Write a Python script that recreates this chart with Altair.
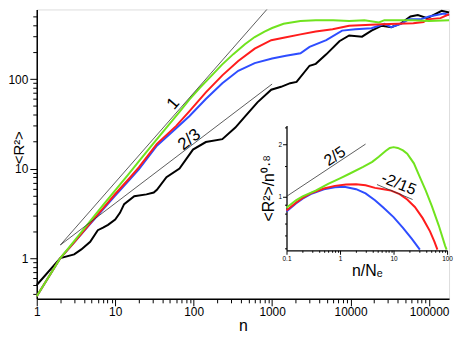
import altair as alt
import pandas as pd

FONT = "Liberation Sans"

# ---------------- main panel data ----------------
n_black = [1, 2, 3, 3.7, 4.8, 6, 7, 8.1, 10, 11.5, 13, 17.5, 25, 31, 34, 45, 66, 98, 143, 232,
           340, 450, 650, 975, 1300, 1700, 2050, 3000, 3600, 4900, 7200, 9600, 14000, 18500,
           25000, 33000, 44000, 58000, 72000, 95000, 145000, 180000]
r2_black = [0.5, 1.0, 1.1, 1.25, 1.52, 2.05, 2.19, 2.35, 2.7, 3.2, 4.0, 4.9, 5.15, 5.4, 5.8, 8.0, 10, 16.3, 19.8, 21.3,
            28.7, 38, 55, 76, 82, 90, 93, 141, 148, 189, 265, 307, 298, 348,
            395, 380, 420, 500, 520, 480, 580, 555]

n_blue = [1, 2, 3, 5, 7, 10, 15, 20, 34, 66, 88, 143, 232, 370, 600, 1000, 1500, 2300, 3000, 4900,
          7800, 11500, 18500, 27000, 33000, 44000, 55000, 78000, 100000, 155000, 180000]
r2_blue = [0.375, 1.0, 1.5, 2.5, 3.5, 5.0, 7.4, 9.8, 18.0, 30.5, 38.5, 60, 90, 124, 151, 170, 182, 194, 229, 272,
           348, 360, 370, 415, 380, 415, 465, 465, 500, 540, 520]

n_red = [1, 2, 3, 5, 7, 10, 15, 20, 34, 60, 88, 143, 232, 370, 600, 975, 1400, 2300, 3600, 5900,
         9600, 25000, 63000, 85000, 95000, 140000, 180000]
r2_red = [0.375, 1.0, 1.5, 2.55, 3.6, 5.2, 7.7, 10.3, 18.9, 30, 43.5, 71, 110, 159, 219, 272, 290, 316, 340, 360,
          395, 410, 420, 435, 465, 480, 530]

n_green = [1, 2, 3, 5, 7, 10, 15, 20, 30, 45, 66, 88, 120, 160, 230, 320, 450, 600, 800, 1000, 1400,
           2300, 3600, 6000, 9600, 15000, 23000, 27000, 63000, 100000, 180000]
r2_green = [0.375, 1.0, 1.55, 2.7, 3.9, 5.7, 8.8, 12, 18.6, 28.7, 43, 59, 80, 104, 145, 190, 245, 295, 340, 372, 415,
            445, 455, 455, 445, 455, 430, 455, 455, 445, 455]

# reference power laws (main panel)
ref_n = [2, 1000, 2, 1000]
ref_r2 = [1.4, 700, 1.4, 88]
ref_id = ["one", "one", "twothirds", "twothirds"]

main_x_ticks = [m * 10 ** d for d in range(0, 6) for m in range(1, 10) if m * 10 ** d <= 180000]
main_y_ticks = [0.4, 0.5, 0.6, 0.7, 0.8, 0.9] + [m * 10 ** d for d in range(0, 3) for m in range(1, 10) if m * 10 ** d <= 500]
main_x_major = [1, 10, 100, 1000, 10000, 100000]
main_y_major = [1, 10, 100]

# ---------------- inset data ----------------
x_in_green = [0.1, 0.15, 0.2, 0.35, 0.6, 1.0, 1.5, 2.7, 4, 5.3, 7, 8.5, 10, 12, 15, 18, 24, 30, 40, 52, 70, 92, 98]
y_in_green = [0.86, 0.95, 1.0, 1.08, 1.18, 1.27, 1.35, 1.48, 1.58, 1.69, 1.82, 1.90, 1.92, 1.90, 1.84, 1.76, 1.55,
              1.32, 1.08, 0.88, 0.68, 0.52, 0.495]
x_in_red = [0.1, 0.15, 0.2, 0.3, 0.5, 0.8, 1.3, 2.0, 3.0, 4.5, 6.5, 9, 13, 18, 25, 35, 48, 58, 66]
y_in_red = [0.83, 0.92, 0.98, 1.05, 1.11, 1.15, 1.17, 1.175, 1.16, 1.12, 1.10, 1.08, 1.03, 0.96, 0.87, 0.75, 0.63,
            0.55, 0.495]
x_in_blue = [0.1, 0.15, 0.2, 0.3, 0.5, 0.8, 1.2, 2.0, 3.0, 4.5, 6.5, 10, 15, 22, 31]
y_in_blue = [0.82, 0.91, 0.97, 1.04, 1.10, 1.13, 1.135, 1.10, 1.04, 0.95, 0.86, 0.76, 0.66, 0.57, 0.495]

in_ref_x = [0.1, 3.0, 4.9, 22.7]
in_ref_y = [1.0, 2.0, 1.17, 0.96]
in_ref_id = ["twofifths", "twofifths", "m2_15", "m2_15"]

in_x_ticks = [round(m * 10 ** d, 3) for d in range(-1, 2) for m in range(1, 10)] + [100]
in_y_ticks = [0.5, 0.6, 0.7, 0.8, 0.9, 1, 1.5, 2, 2.5]
in_x_major = [0.1, 1, 10, 100]
in_y_major = [1, 2]

series_names = ["black", "blue", "red", "green"]
series_colors = ["#000000", "#2e4dff", "#ff1c1c", "#70e31e"]

# ---------------- tables ----------------
def table(xs, ys, name, xk, yk):
    return pd.DataFrame({xk: xs, yk: ys, "series": name})

main_df = pd.concat([
    table(n_black, r2_black, "black", "n", "r2"),
    table(n_blue, r2_blue, "blue", "n", "r2"),
    table(n_red, r2_red, "red", "n", "r2"),
    table(n_green, r2_green, "green", "n", "r2"),
], ignore_index=True)

inset_df = pd.concat([
    table(x_in_blue, y_in_blue, "blue", "x", "y"),
    table(x_in_red, y_in_red, "red", "x", "y"),
    table(x_in_green, y_in_green, "green", "x", "y"),
], ignore_index=True)

ref_df = pd.DataFrame({"n": ref_n, "r2": ref_r2, "id": ref_id})
in_ref_df = pd.DataFrame({"x": in_ref_x, "y": in_ref_y, "id": in_ref_id})

color = alt.Color("series:N", scale=alt.Scale(domain=series_names, range=series_colors), legend=None)


def major_test(vals):
    return "indexof([" + ",".join(str(v) for v in vals) + "], datum.value) >= 0"


def log_axis(ticks, major, orient, title, big, small, label_size, title_size, **kw):
    test = major_test(major)
    return alt.Axis(
        values=ticks, orient=orient, title=title, grid=False,
        labelExpr=test + " ? format(datum.value, '') : ''",
        labelOverlap=False, labelFlush=False, labelBound=False,
        tickSize={"condition": {"test": test, "value": big}, "value": small},
        tickColor="black", tickWidth=1, domainColor="black",
        labelFont=FONT, labelFontSize=label_size, labelColor="black",
        titleFont=FONT, titleFontSize=title_size, titleFontWeight="normal", titleColor="black",
        **kw,
    )

# ---------------- layout ----------------
PLOT_W, PLOT_H = 416, 292
IN_X0, IN_X1 = 252, 414
IN_Y0, IN_Y1 = 243, 117

# ---------------- main panel ----------------
x_main = alt.X("n:Q", scale=alt.Scale(type="log", domain=[1, 180000], nice=False),
               axis=log_axis(main_x_ticks, main_x_major, "bottom", "n", 7, 4, 12, 16,
                             domainWidth=1.5, labelPadding=1, titlePadding=0))
y_main = alt.Y("r2:Q", scale=alt.Scale(type="log", domain=[0.35, 600], nice=False),
               axis=log_axis(main_y_ticks, main_y_major, "left", "<R²>", 7, 4, 12, 15,
                             domainWidth=1.5, labelPadding=2, titleX=-18, titleY=139,
                             titleAlign="center", titleBaseline="middle", titleAngle=270))

main_lines = alt.Chart(main_df).mark_line(strokeWidth=2).encode(x=x_main, y=y_main, color=color)
main_refs = alt.Chart(ref_df).mark_line(strokeWidth=0.8, color="#333333", clip=True).encode(
    x=x_main, y=y_main, detail="id:N")

ann_text = ["1", "2/3"]
ann_n = [55, 88]
ann_r2 = [53, 21]
ann_angle = [311, 322]
main_texts = [
    alt.Chart(pd.DataFrame({"n": [ann_n[i]], "r2": [ann_r2[i]]})).mark_text(
        text=ann_text[i], angle=ann_angle[i], font=FONT, fontSize=17, color="black").encode(x=x_main, y=y_main)
    for i in range(len(ann_text))
]
main = alt.layer(main_lines, main_refs, *main_texts)

# ---------------- inset panel ----------------
x_in = alt.X("x:Q", scale=alt.Scale(type="log", domain=[0.1, 100], nice=False, range=[IN_X0, IN_X1]),
             axis=log_axis(in_x_ticks, in_x_major, "bottom", "n/Nₑ", 4, 2, 6.5, 16,
                           offset=IN_Y0 - PLOT_H, domainWidth=1.3, labelPadding=1, titlePadding=1))
y_in = alt.Y("y:Q", scale=alt.Scale(type="log", domain=[0.49, 2.56], nice=False, range=[IN_Y0, IN_Y1]),
             axis=log_axis(in_y_ticks, in_y_major, "left", "<R²>/n⁰·⁸", 4, 2, 6.5, 16,
                           offset=-IN_X0, domainWidth=1.3, labelPadding=1, titlePadding=2))

inset_lines = alt.Chart(inset_df).mark_line(strokeWidth=2).encode(x=x_in, y=y_in, color=color)
inset_refs = alt.Chart(in_ref_df).mark_line(strokeWidth=0.8, color="#333333").encode(
    x=x_in, y=y_in, detail="id:N")

in_ann_text = ["2/5", "-2/15"]
in_ann_x = [0.8, 12.5]
in_ann_y = [1.7, 1.18]
in_ann_angle = [326, 22]
inset_texts = [
    alt.Chart(pd.DataFrame({"x": [in_ann_x[i]], "y": [in_ann_y[i]]})).mark_text(
        text=in_ann_text[i], angle=in_ann_angle[i], font=FONT, fontSize=16, color="black").encode(x=x_in, y=y_in)
    for i in range(len(in_ann_text))
]
inset = alt.layer(inset_lines, inset_refs, *inset_texts)

chart = alt.layer(main, inset).resolve_scale(x="independent", y="independent").properties(
    width=PLOT_W, height=PLOT_H,
    padding={"left": 29, "top": 0, "right": 6, "bottom": 36},
    autosize=alt.AutoSizeParams(type="none"),
).configure_view(strokeWidth=0).configure(background="white")

chart.save("out.html", embed_options={"renderer": "svg", "actions": False})
